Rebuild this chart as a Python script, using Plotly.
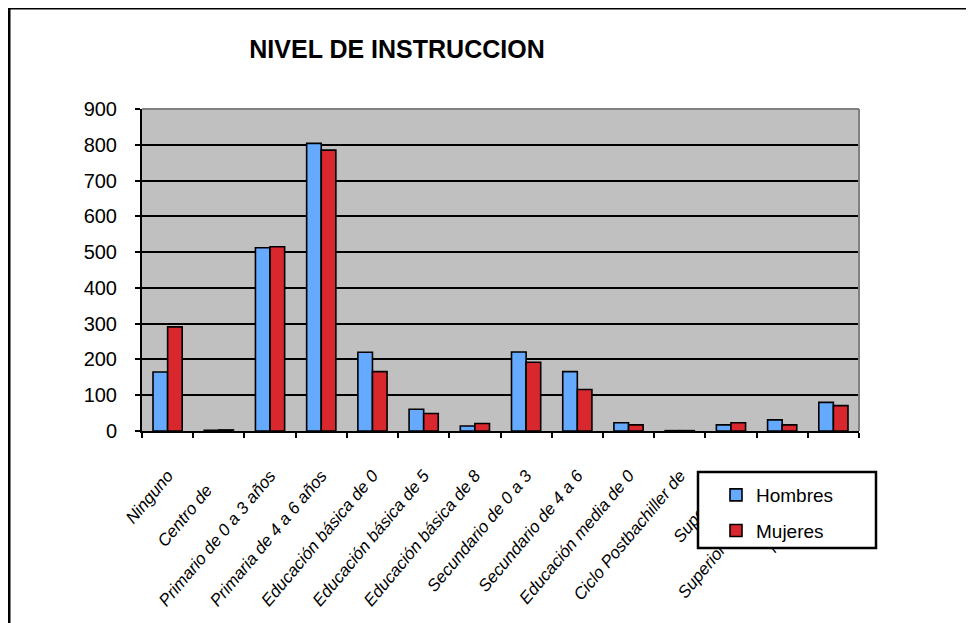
import plotly.graph_objects as go

categorias = [
    "Ninguno",
    "Centro de\u00a0\u00a0\u00a0\u00a0",
    "Primario de 0 a 3 años",
    "Primaria de 4 a 6 años",
    "Educación básica de 0",
    "Educación básica de 5",
    "Educación básica de 8",
    "Secundario de 0 a 3",
    "Secundario de 4 a 6",
    "Educación media de 0",
    "Ciclo Postbachiller de",
    "Superior de",
    "Superior universitario",
    "No declarado",
]
hombres = [165, 2, 512, 804, 220, 61, 14, 221, 166, 23, 1, 17, 31, 80]
mujeres = [291, 3, 515, 785, 166, 49, 21, 192, 116, 17, 1, 23, 17, 71]
y_ticks = [0, 100, 200, 300, 400, 500, 600, 700, 800, 900]

OFF = 8  # page body margin in which the figure is placed
W, H = 974 - OFF, 623 - OFF
L, R, T, B = 142, 859, 109, 431  # page pixel coordinates of the plot area
pw, ph = R - L, B - T


def px2x(px):
    return (px - L) / pw


def px2y(py):
    return (B - py) / ph


fig = go.Figure()
fig.add_trace(go.Bar(
    x=categorias, y=hombres, name="Hombres",
    marker=dict(color="#66AAFF", line=dict(color="black", width=1.6)),
    legendgroup="h",
))
fig.add_trace(go.Bar(
    x=categorias, y=mujeres, name="Mujeres",
    marker=dict(color="#D9272E", line=dict(color="black", width=1.6)),
    legendgroup="m",
))

sans = "Liberation Sans, Arial, sans-serif"

fig.update_layout(
    width=W, height=H,
    margin=dict(l=L - OFF, r=W - (R - OFF), t=T - OFF, b=H - (B - OFF), autoexpand=False),
    paper_bgcolor="white",
    plot_bgcolor="#C0C0C0",
    barmode="group",
    bargap=0.43,
    bargroupgap=0,
    title=dict(
        text="NIVEL DE INSTRUCCION",
        x=(397 - OFF) / W, xanchor="center",
        y=1 - (49 - OFF) / H, yanchor="middle",
        font=dict(family=sans, size=25, color="black", weight="bold"),
    ),
    xaxis=dict(
        type="category",
        tickson="boundaries",
        ticks="outside", ticklen=5, tickwidth=2, tickcolor="black",
        showline=True, linecolor="black", linewidth=2,
        showgrid=False,
        tickangle=-50,
        ticklabelstandoff=26,
        tickfont=dict(family=sans, size=17, color="black", style="italic"),
    ),
    yaxis=dict(
        range=[0, 900],
        tickvals=y_ticks,
        ticks="outside", ticklen=5, tickwidth=2, tickcolor="black",
        showline=True, linecolor="black", linewidth=2,
        showgrid=True, gridcolor="black", gridwidth=2,
        zeroline=False,
        ticklabelstandoff=14,
        tickfont=dict(family=sans, size=20, color="black"),
    ),
    showlegend=True,
    legend=dict(
        x=px2x(716), xanchor="left",
        y=px2y(476), yanchor="top",
        bgcolor="rgba(0,0,0,0)", borderwidth=0,
        traceorder="grouped", tracegroupgap=8,
        font=dict(family=sans, size=19, color="black"),
    ),
    shapes=[
        # outer chart frame
        dict(type="rect", xref="paper", yref="paper", layer="above",
             x0=px2x(9), x1=px2x(1000), y0=px2y(660), y1=px2y(8),
             line=dict(color="black", width=3), fillcolor="rgba(0,0,0,0)"),
        # plot area top and right edges
        dict(type="line", xref="paper", yref="paper", layer="above",
             x0=0, x1=1, y0=1, y1=1, line=dict(color="#808080", width=2)),
        dict(type="line", xref="paper", yref="paper", layer="above",
             x0=1, x1=1, y0=0, y1=1, line=dict(color="#808080", width=2)),
        # legend box
        dict(type="rect", xref="paper", yref="paper", layer="above",
             x0=px2x(698), x1=px2x(876), y0=px2y(548), y1=px2y(472),
             line=dict(color="black", width=2.5), fillcolor="white"),
    ],
)

fig.write_html("out.html")
